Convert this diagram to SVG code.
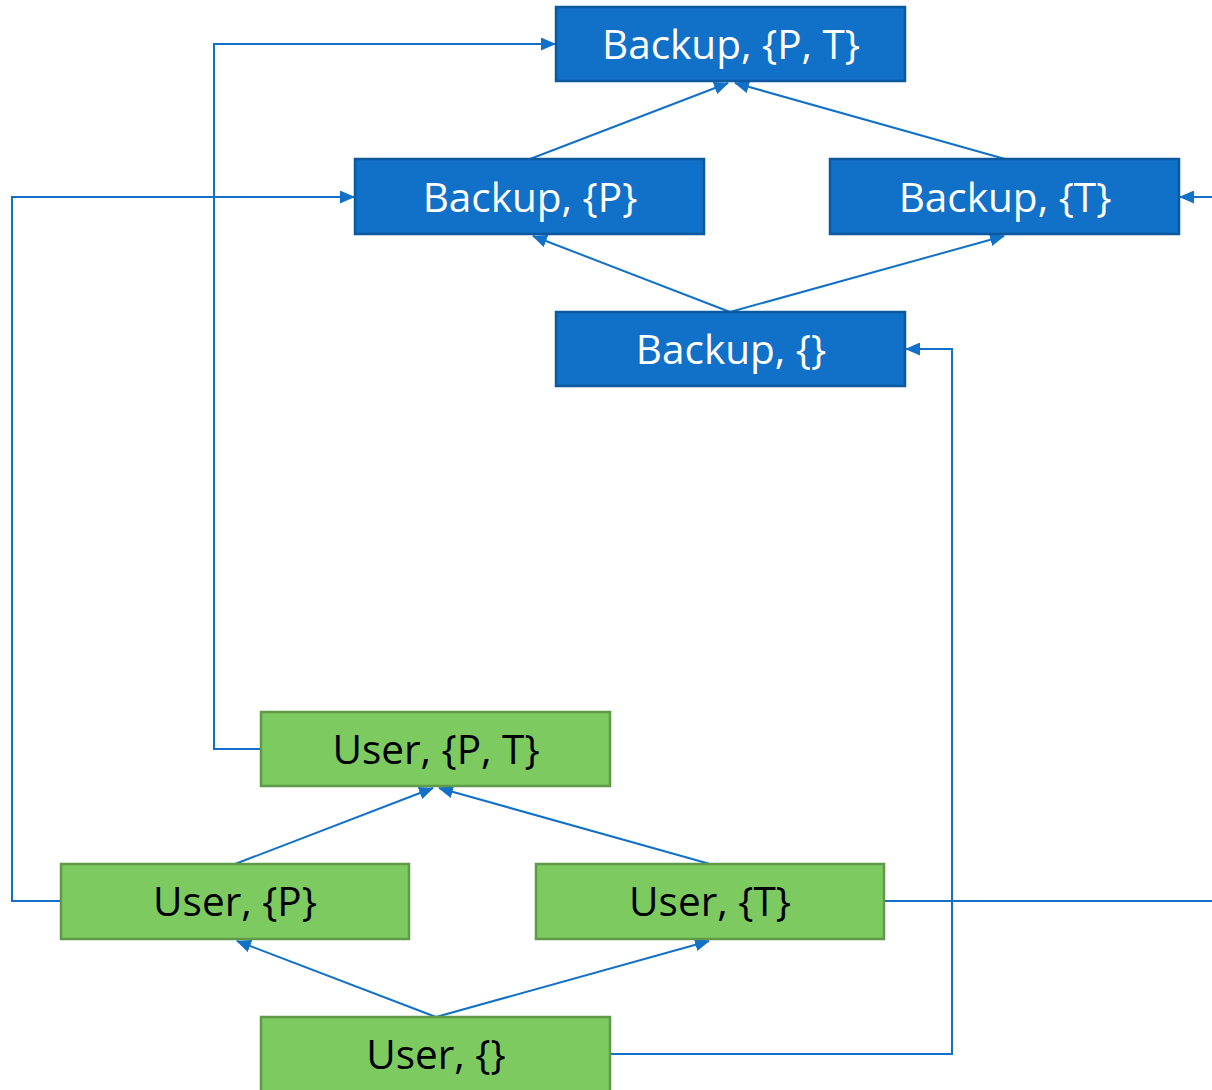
<svg xmlns="http://www.w3.org/2000/svg" width="1212" height="1090" viewBox="0 0 1212 1090">
<style>
.b rect{fill:#1170C8;stroke:#0D599F;stroke-width:2.5}
.u rect{fill:#7DCB60;stroke:#5E9A48;stroke-width:2.5}
text{font-family:"Open Sans","Noto Sans",sans-serif;font-size:40.5px;text-anchor:middle}
.b text{fill:#fff}
.u text{fill:#000}
.c path{fill:none;stroke:#1170C8;stroke-width:2;marker-end:url(#ah)}
</style>
<defs>
<marker id="ah" markerUnits="userSpaceOnUse" markerWidth="15" markerHeight="13" refX="14" refY="6.5" orient="auto">
<path d="M0,0 L15,6.5 L0,13 Z" fill="#1170C8"/>
</marker>
</defs>
<rect width="1212" height="1090" fill="#fff"/>
<g class="c">
<path d="M530,159 L728,83"/>
<path d="M1005,159 L735,83"/>
<path d="M730,312 L533,236"/>
<path d="M730,312 L1004,236"/>
<path d="M261,749 H214 V44 H555"/>
<path d="M61,901 H12 V197 H354"/>
<path d="M884,901 H1240 V197 H1180"/>
<path d="M610,1054 H952 V349 H906"/>
<path d="M235,864 L433,788"/>
<path d="M710,864 L439,788"/>
<path d="M436,1017 L237,941"/>
<path d="M436,1017 L709,941"/>
</g>
<g id="backup-pt" class="b"><rect x="556" y="7" width="349" height="74"/><text x="731" y="59">Backup, {P, T}</text></g>
<g id="backup-p" class="b"><rect x="355" y="159" width="349" height="75"/><text x="530" y="212">Backup, {P}</text></g>
<g id="backup-t" class="b"><rect x="830" y="159" width="349" height="75"/><text x="1005" y="212">Backup, {T}</text></g>
<g id="backup-empty" class="b"><rect x="556" y="312" width="349" height="74"/><text x="731" y="364">Backup, {}</text></g>
<g id="user-pt" class="u"><rect x="261" y="712" width="349" height="74"/><text x="436" y="764">User, {P, T}</text></g>
<g id="user-p" class="u"><rect x="61" y="864" width="348" height="75"/><text x="235" y="916">User, {P}</text></g>
<g id="user-t" class="u"><rect x="536" y="864" width="348" height="75"/><text x="710" y="916">User, {T}</text></g>
<g id="user-empty" class="u"><rect x="261" y="1017" width="349" height="80"/><text x="436" y="1069">User, {}</text></g>
</svg>
